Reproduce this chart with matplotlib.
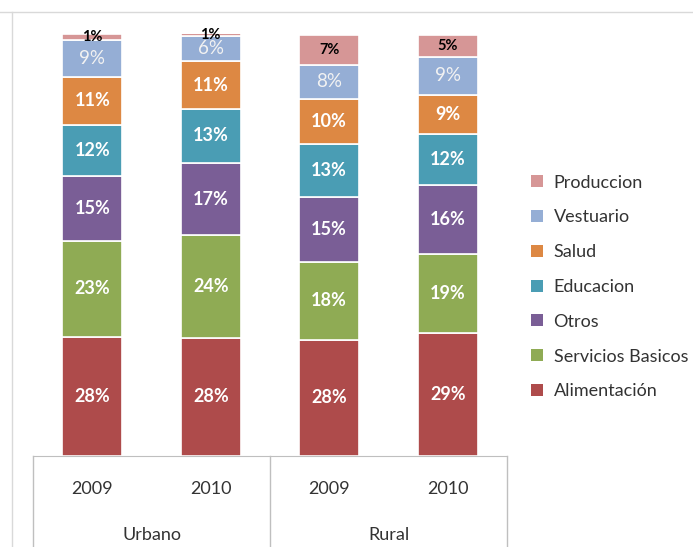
import matplotlib.pyplot as plt
from matplotlib.patches import Patch
from matplotlib.lines import Line2D

plt.rcParams['font.family'] = ['Lato', 'DejaVu Sans']

years = ['2009', '2010', '2009', '2010']
groups = ['Urbano', 'Rural']
categories = ['Alimentación', 'Servicios Basicos', 'Otros', 'Educacion',
              'Salud', 'Vestuario', 'Produccion']

# percent shares per bar (Urbano 2009, Urbano 2010, Rural 2009, Rural 2010)
alimentacion = [28.3, 28.1, 27.6, 29.1]
servicios = [22.8, 24.2, 18.5, 18.7]
otros = [15.2, 17.2, 15.2, 16.4]
educacion = [12.3, 12.8, 12.8, 12.2]
salud = [11.3, 11.3, 10.5, 9.2]
vestuario = [8.7, 5.9, 8.2, 9.1]
produccion = [1.4, 0.7, 7.1, 5.2]

series = [alimentacion, servicios, otros, educacion, salud, vestuario, produccion]
colors = ['#AE4B4B', '#8FAB54', '#7A5E96', '#4A9DB4', '#DD8843', '#95AED5', '#D69696']

fig = plt.figure(figsize=(6.93, 5.47), dpi=100)
ax = fig.add_axes([33 / 693, 91 / 547, 474 / 693, 421.7 / 547])

x = list(range(len(years)))
bottom = [0, 0, 0, 0]
for name, vals, col in zip(categories, series, colors):
    ax.bar(x, vals, width=0.506, bottom=bottom, color=col,
           edgecolor='white', linewidth=1.2)
    for i in x:
        yc = bottom[i] + vals[i] / 2
        txt = '%d%%' % round(vals[i])
        if name == 'Produccion':
            ax.text(i, yc, txt, ha='center', va='center', fontsize=10.5,
                    fontweight='bold', color='black')
        elif name == 'Vestuario':
            ax.text(i, yc, txt, ha='center', va='center', fontsize=13.5,
                    color='#F2F2F2')
        else:
            ax.text(i, yc, txt, ha='center', va='center', fontsize=13,
                    fontweight='bold', color='white')
    bottom = [b + v for b, v in zip(bottom, vals)]

ax.set_xlim(-0.5, 3.5)
ax.set_ylim(0, 100)
ax.set_xticks([])
ax.set_yticks([])
for s in ['top', 'right', 'left']:
    ax.spines[s].set_visible(False)
ax.spines['bottom'].set_color('#BFBFBF')

# category axis labels and separators
trans = ax.get_xaxis_transform()
for i, yr in enumerate(years):
    ax.text(i, -0.078, yr, transform=trans, ha='center', va='center',
            fontsize=13, color='#333333')
for g, xc in zip(groups, [0.5, 2.5]):
    ax.text(xc, -0.187, g, transform=trans, ha='center', va='center',
            fontsize=13, color='#333333')
for xs in [-0.5, 1.5, 3.5]:
    ax.plot([xs, xs], [0, -0.25], transform=trans, color='#BFBFBF',
            linewidth=1, clip_on=False)

# chart border remnants
fig.add_artist(Line2D([0, 1], [1 - 12 / 547, 1 - 12 / 547], color='#D9D9D9', linewidth=1))
fig.add_artist(Line2D([12 / 693, 12 / 693], [0, 1 - 12 / 547], color='#D9D9D9', linewidth=1))

handles = [Patch(facecolor=c, label=n) for n, c in zip(categories, colors)][::-1]
fig.legend(handles=handles, loc='center left', bbox_to_anchor=(522 / 693, (547 - 287) / 547),
           frameon=False, fontsize=13, handlelength=0.65, handleheight=0.65,
           handletextpad=0.6, labelspacing=1.04, borderpad=0, labelcolor='#333333')

fig.savefig('out.png', dpi=100)
